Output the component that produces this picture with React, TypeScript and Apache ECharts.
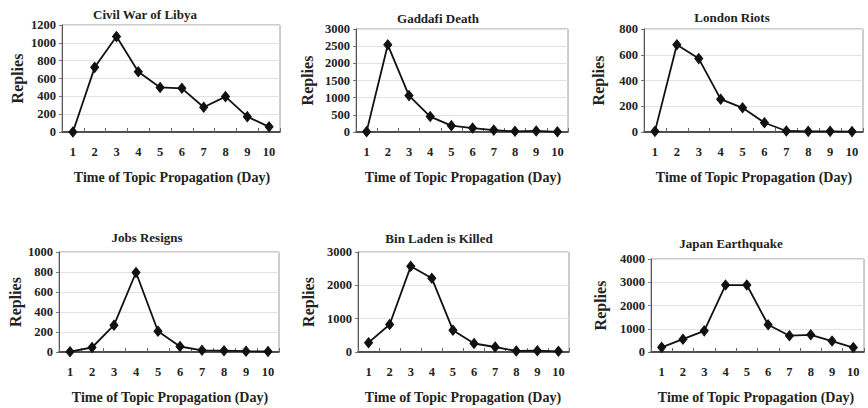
import React, { useEffect, useRef } from "react";
import * as echarts from "echarts";

// Topic propagation: replies per day for six trending topics
const days = ["1", "2", "3", "4", "5", "6", "7", "8", "9", "10"];

const titles = [
  "Civil War of Libya",
  "Gaddafi Death",
  "London Riots",
  "Jobs Resigns",
  "Bin Laden is Killed",
  "Japan Earthquake",
];

const libya = [0, 725, 1070, 675, 500, 490, 278, 397, 172, 58];
const gaddafi = [10, 2540, 1060, 450, 185, 115, 55, 20, 30, 5];
const london = [5, 678, 570, 255, 188, 72, 8, 5, 5, 3];
const jobs = [3, 45, 268, 795, 208, 55, 17, 13, 8, 5];
const binLaden = [280, 825, 2570, 2210, 655, 255, 150, 30, 40, 20];
const japan = [200, 550, 910, 2880, 2880, 1170, 700, 740, 470, 190];

const yMax = [1200, 3000, 800, 1000, 3000, 4000];
const yStep = [200, 500, 200, 200, 1000, 1000];

const xAxisTitle = "Time of Topic Propagation (Day)";
const yAxisTitle = "Replies";

// panel layout: plot rect and label anchors
const layout = [
  { left: 62, top: 25, width: 218, height: 107, tx: 145, ty: 14, yx: 17, xx: 172, xy: 177 },
  { left: 356, top: 29, width: 212, height: 103, tx: 438, ty: 18, yx: 307, xx: 463, xy: 177 },
  { left: 644, top: 29, width: 219, height: 103, tx: 732, ty: 17, yx: 598, xx: 754, xy: 177 },
  { left: 59, top: 252, width: 220, height: 100, tx: 147, ty: 237, yx: 15, xx: 170, xy: 397 },
  { left: 358, top: 252, width: 211, height: 100, tx: 439, ty: 238, yx: 308, xx: 463, xy: 397 },
  { left: 651, top: 259, width: 213, height: 93, tx: 731, ty: 243, yx: 600, xx: 756, xy: 397 },
];

const FONT = "'Liberation Serif', 'Times New Roman', serif";

export default function App() {
  const ref = useRef<HTMLDivElement>(null);

  useEffect(() => {
    if (!ref.current) return;
    const chart = echarts.init(ref.current, null, { renderer: "svg" });
    const seriesData = [libya, gaddafi, london, jobs, binLaden, japan];

    const grid = layout.map((l) => ({
      left: l.left,
      top: l.top,
      width: l.width,
      height: l.height,
      show: true,
      borderColor: "#9a9a9a",
      borderWidth: 1,
      backgroundColor: "#ffffff",
      containLabel: false,
      outerBoundsMode: "none",
    }));

    const xAxis = layout.map((_, i) => ({
      type: "category",
      gridIndex: i,
      data: days,
      boundaryGap: true,
      axisLine: { lineStyle: { color: "#222", width: 1.5 } },
      axisTick: { show: true, inside: true, length: 4, lineStyle: { color: "#666" } },
      axisLabel: {
        margin: 13,
        fontFamily: FONT,
        fontWeight: "bold",
        fontSize: 12.5,
        color: "#222",
      },
      splitLine: { show: false },
    }));

    const yAxis = layout.map((_, i) => ({
      type: "value",
      gridIndex: i,
      min: 0,
      max: yMax[i],
      interval: yStep[i],
      axisLine: { show: true, lineStyle: { color: "#555", width: 1 } },
      axisTick: { show: true, length: 3, lineStyle: { color: "#777" } },
      axisLabel: {
        margin: 6,
        fontFamily: FONT,
        fontWeight: "bold",
        fontSize: 12.5,
        color: "#222",
        formatter: (v: number) => String(v),
      },
      splitLine: { show: true, lineStyle: { color: "#e2e2e2", width: 1 } },
    }));

    const series = seriesData.map((d, i) => ({
      type: "line",
      xAxisIndex: i,
      yAxisIndex: i,
      data: d,
      symbol: "diamond",
      symbolSize: [8, 10],
      lineStyle: { color: "#111", width: 1.8 },
      itemStyle: { color: "#111", borderColor: "#111" },
      z: 3,
    }));

    const texts: any[] = [];
    layout.forEach((l, i) => {
      texts.push({
        type: "text",
        x: l.tx,
        y: l.ty,
        style: {
          text: titles[i],
          fontFamily: FONT,
          fontWeight: "bold",
          fontSize: 13,
          fill: "#222",
          align: "center",
          verticalAlign: "middle",
        },
      });
      texts.push({
        type: "text",
        x: l.xx,
        y: l.xy,
        style: {
          text: xAxisTitle,
          fontFamily: FONT,
          fontWeight: "bold",
          fontSize: 14,
          fill: "#222",
          align: "center",
          verticalAlign: "middle",
        },
      });
      texts.push({
        type: "text",
        x: l.yx,
        y: l.top + l.height / 2,
        rotation: Math.PI / 2,
        style: {
          text: yAxisTitle,
          fontFamily: FONT,
          fontWeight: "bold",
          fontSize: 16,
          fill: "#222",
          align: "center",
          verticalAlign: "middle",
        },
      });
    });

    chart.setOption({
      animation: false,
      backgroundColor: "#ffffff",
      grid,
      xAxis,
      yAxis,
      series,
      graphic: texts,
    });

    return () => chart.dispose();
  }, []);

  return (
    <div
      ref={ref}
      style={{ position: "fixed", left: 0, top: 0, width: 868, height: 408 }}
    />
  );
}
